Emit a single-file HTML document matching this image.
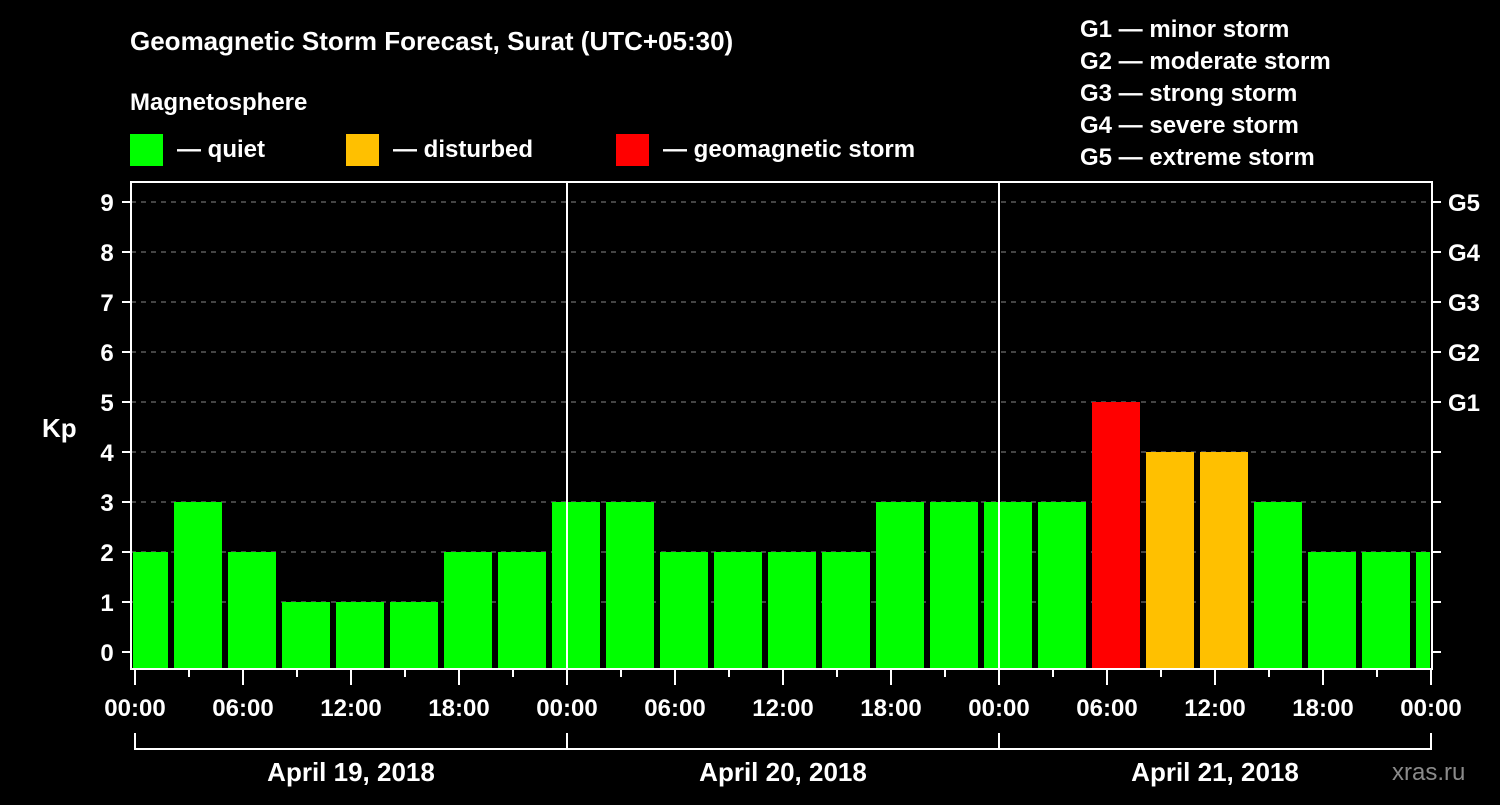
<!DOCTYPE html>
<html><head><meta charset="utf-8"><style>
body{margin:0;background:#000;width:1500px;height:800px;overflow:hidden}
svg text{font-family:"Liberation Sans",sans-serif;font-weight:bold;fill:#fff}
</style></head><body>
<svg id="c" width="1500" height="800">
<text x="130" y="50" font-size="26">Geomagnetic Storm Forecast, Surat (UTC+05:30)</text>
<text x="130" y="110" font-size="24">Magnetosphere</text>
<g><rect x="130" y="134" width="33" height="32" fill="#00ff00"/><text x="177" y="157" font-size="24">— quiet</text></g>
<g><rect x="346" y="134" width="33" height="32" fill="#ffc000"/><text x="393" y="157" font-size="24">— disturbed</text></g>
<g><rect x="616" y="134" width="33" height="32" fill="#ff0000"/><text x="663" y="157" font-size="24">— geomagnetic storm</text></g>
<g font-size="24">
<text x="1080" y="37">G1 — minor storm</text><text x="1080" y="69">G2 — moderate storm</text><text x="1080" y="101">G3 — strong storm</text><text x="1080" y="133">G4 — severe storm</text><text x="1080" y="165">G5 — extreme storm</text></g>
<text x="42" y="437" font-size="26">Kp</text>
<text x="1392" y="780" font-size="24" fill="#888" style="fill:#8a8a8a;font-weight:normal">xras.ru</text>
<defs><clipPath id="pc"><rect x="133" y="183" width="1297" height="485"/></clipPath></defs>
<g id="grid"></g><g id="bars" clip-path="url(#pc)"></g><g id="axes"></g>
</svg>
<script>
const kpValues=[2,3,2,1,1,1,2,2,3,3,2,2,2,2,3,3,3,3,5,4,4,3,2,2,2];
const yTicks=[0,1,2,3,4,5,6,7,8,9];
const gLabels=["G1","G2","G3","G4","G5"];
const xTickLabels=["00:00","06:00","12:00","18:00","00:00","06:00","12:00","18:00","00:00","06:00","12:00","18:00","00:00"];
const dayLabels=["April 19, 2018","April 20, 2018","April 21, 2018"];
const NS="http://www.w3.org/2000/svg";
const X0=135,PXH=18;
const x=h=>X0+h*PXH;
const y=v=>652-v*50;
function mk(p,t,a){const e=document.createElementNS(NS,t);for(const k in a)e.setAttribute(k,a[k]);document.getElementById(p).appendChild(e);return e;}
function col(v){return v>=5?"#ff0000":v>=4?"#ffc000":"#00ff00";}
yTicks.forEach(v=>{
 if(v>0){const g=mk("grid","line",{x1:131,x2:1432,y1:y(v),y2:y(v),stroke:"#888","stroke-dasharray":"5,5"});
 
 }
 mk("axes","line",{x1:122,x2:131,y1:y(v),y2:y(v),stroke:"#fff","stroke-width":2});
 mk("axes","line",{x1:1432,x2:1441,y1:y(v),y2:y(v),stroke:"#fff","stroke-width":2});
 const t=mk("axes","text",{x:107,y:y(v)+9,"font-size":24,"text-anchor":"middle"});t.textContent=v;
 
 
});
gLabels.forEach((g,i)=>{const t=mk("axes","text",{x:1448,y:y(5+i)+9,"font-size":24});t.textContent=g;
 
 });
kpValues.forEach((v,i)=>{
 const c=0.5+3*i;
 const r=mk("bars","rect",{x:x(c)-24,y:y(v),width:48,height:668-y(v),fill:col(v)});
 
 
});
// frame
mk("axes","rect",{x:131,y:182,width:1301,height:487,fill:"none",stroke:"#fff","stroke-width":2});
[24,48].forEach(h=>mk("axes","line",{x1:x(h),x2:x(h),y1:182,y2:669,stroke:"#fff","stroke-width":2}));
for(let h=0;h<=72;h+=3){const maj=h%6==0;mk("axes","line",{x1:x(h),x2:x(h),y1:669,y2:maj?685:677,stroke:"#fff","stroke-width":2});}
xTickLabels.forEach((l,i)=>{const t=mk("axes","text",{x:x(i*6),y:716,"font-size":24,"text-anchor":"middle"});t.textContent=l;
 
 });
mk("axes","line",{x1:x(0),x2:x(72),y1:749,y2:749,stroke:"#fff","stroke-width":2});
[0,24,48,72].forEach(h=>mk("axes","line",{x1:x(h),x2:x(h),y1:733,y2:750,stroke:"#fff","stroke-width":2}));
dayLabels.forEach((l,i)=>{const t=mk("axes","text",{x:x(i*24+12),y:781,"font-size":26,"text-anchor":"middle"});t.textContent=l;
 
 });
</script>
</body></html>
